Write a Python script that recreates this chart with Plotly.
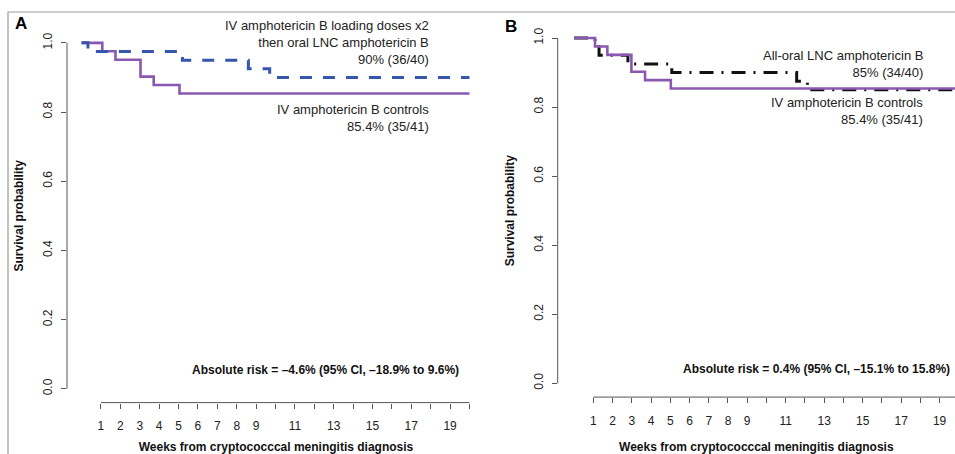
import plotly.graph_objects as go

# ---------------- data ----------------
# Panel A
a_ctrl_weeks = [0, 1.07, 1.75, 3.04, 3.72, 5.05, 20]
a_ctrl_surv = [1.0, 40/41, 39/41, 37/41, 36/41, 35/41, 35/41]
a_load_weeks = [0, 0.33, 5.2, 8.6, 9.7, 20]
a_load_surv = [1.0, 39/40, 38/40, 37/40, 36/40, 36/40]
# Panel B
b_ctrl_weeks = [0, 1.09, 1.73, 2.98, 3.69, 5.03, 20]
b_ctrl_surv = [1.0, 40/41, 39/41, 37/41, 36/41, 35/41, 35/41]
b_oral_weeks = [0, 1.09, 1.3, 2.8, 5.08, 11.57, 12.13, 20]
b_oral_surv = [1.0, 39/40, 38/40, 37/40, 36/40, 35/40, 34/40, 34/40]

x_tickvals = list(range(1, 21))
x_ticktext = [str(v) if (v <= 9 or v % 2 == 1) else "" for v in x_tickvals]
y_tickvals = [0, 0.2, 0.4, 0.6, 0.8, 1.0]
y_ticktext = ["0.0", "0.2", "0.4", "0.6", "0.8", "1.0"]

W, H = 955, 454
FONT = "Liberation Sans, Arial, Helvetica, sans-serif"
PURPLE = "#8a58b0"
BLUE = "#3556ad"
AXC = "#555555"


def px(x):
    return x / W


def py(y):
    return 1 - y / H


fig = go.Figure()

# Panel A
fig.add_trace(go.Scatter(x=a_ctrl_weeks, y=a_ctrl_surv, mode="lines", line_shape="hv",
                         line=dict(color=PURPLE, width=2.6), xaxis="x", yaxis="y",
                         showlegend=False, hoverinfo="skip"))
fig.add_trace(go.Scatter(x=a_load_weeks, y=a_load_surv, mode="lines", line_shape="hv",
                         line=dict(color=BLUE, width=3, dash="12px,11px"), xaxis="x", yaxis="y",
                         showlegend=False, hoverinfo="skip"))
# Panel B
fig.add_trace(go.Scatter(x=b_oral_weeks, y=b_oral_surv, mode="lines", line_shape="hv",
                         line=dict(color="#111111", width=3, dash="14px,8px,2px,8px"),
                         xaxis="x2", yaxis="y2", showlegend=False, hoverinfo="skip"))
fig.add_trace(go.Scatter(x=b_ctrl_weeks, y=b_ctrl_surv, mode="lines", line_shape="hv",
                         line=dict(color=PURPLE, width=2.6), xaxis="x2", yaxis="y2",
                         showlegend=False, hoverinfo="skip"))

xcommon = dict(tickvals=x_tickvals, ticktext=x_ticktext, ticks="outside", ticklen=5,
               tickcolor=AXC, tickwidth=1, showline=False, showgrid=False, zeroline=False,
               automargin=False, ticklabelstandoff=7,
               tickfont=dict(family=FONT, size=12, color="#222"), fixedrange=True,
               title=dict(text="<b>Weeks from cryptococccal meningitis diagnosis</b>",
                          font=dict(family=FONT, size=12, color="#111"), standoff=17))
ycommon = dict(tickvals=y_tickvals, ticktext=y_ticktext, ticks="outside", ticklen=5,
               tickcolor=AXC, tickwidth=1, showline=False, showgrid=False, zeroline=False,
               automargin=False, ticklabelstandoff=4,
               tickangle=-90, range=[-0.04, 1.04],
               tickfont=dict(family=FONT, size=12, color="#222"), fixedrange=True,
               title=dict(text="<b>Survival probability</b>",
                          font=dict(family=FONT, size=12, color="#111"), standoff=14))

fig.update_layout(
    width=W, height=H, margin=dict(l=0, r=0, t=0, b=0, autoexpand=False),
    paper_bgcolor="white", plot_bgcolor="white",
    xaxis=dict(domain=[px(67), px(485)], range=[-0.75, 20.8], anchor="y", **xcommon),
    yaxis=dict(domain=[py(402.6), py(29)], anchor="x", **ycommon),
    xaxis2=dict(domain=[px(557.7), 1.0], range=[-0.85, 19.8], anchor="y2", **xcommon),
    yaxis2=dict(domain=[py(397.1), py(24.2)], anchor="x2", **ycommon),
)

shapes = []
for xa, ya in (("x", "y"), ("x2", "y2")):
    # x axis line spanning 1..20
    shapes.append(dict(type="line", xref=xa, yref=ya + " domain", x0=1, x1=20, y0=0, y1=0,
                       line=dict(color=AXC, width=1)))
    # y axis line spanning 0..1
    shapes.append(dict(type="line", xref=xa + " domain", yref=ya, x0=0, x1=0, y0=0, y1=1,
                       line=dict(color=AXC, width=1)))
# outer frame (cropped at right and bottom)
shapes.append(dict(type="rect", xref="paper", yref="paper", x0=px(8), x1=1.05, y0=-0.05, y1=py(12),
                   line=dict(color="#9a9a9a", width=1.2), layer="below"))
fig.update_layout(shapes=shapes)

tf = dict(family=FONT, size=13, color="#222")
bf = dict(family=FONT, size=12, color="#111")
ann = [
    dict(x=px(21), y=py(24), text="<b>A</b>", font=dict(family=FONT, size=17, color="#000")),
    dict(x=px(511), y=py(26), text="<b>B</b>", font=dict(family=FONT, size=17, color="#000")),
    dict(x=px(431), y=py(43), xanchor="right", align="right", font=tf,
         text="IV amphotericin B loading doses x2<br>then oral LNC amphotericin B<br>90% (36/40)"),
    dict(x=px(431), y=py(118), xanchor="right", align="right", font=tf,
         text="IV amphotericin B controls<br>85.4% (35/41)"),
    dict(x=px(925), y=py(64), xanchor="right", align="right", font=tf,
         text="All-oral LNC amphotericin B<br>85% (34/40)"),
    dict(x=px(925), y=py(111.5), xanchor="right", align="right", font=tf,
         text="IV amphotericin B controls<br>85.4% (35/41)"),
    dict(x=px(461), y=py(370), xanchor="right", font=bf,
         text="<b>Absolute risk = \u20134.6% (95% CI, \u201318.9% to 9.6%)</b>"),
    dict(x=px(952), y=py(369), xanchor="right", font=bf,
         text="<b>Absolute risk = 0.4% (95% CI, \u201315.1% to 15.8%)</b>"),
]
for a in ann:
    a.setdefault("xanchor", "center")
    a.update(xref="paper", yref="paper", showarrow=False, yanchor="middle")
fig.update_layout(annotations=ann)

fig.write_html("out.html", config={"displayModeBar": False},
               post_script="document.body.style.margin='0';document.body.style.overflow='hidden';")
